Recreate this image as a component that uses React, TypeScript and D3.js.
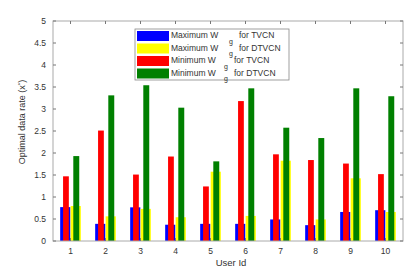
import React from "react";
import * as d3 from "d3";

const users = [1, 2, 3, 4, 5, 6, 7, 8, 9, 10];
const maxTVCN = [0.77, 0.39, 0.765, 0.37, 0.39, 0.39, 0.49, 0.36, 0.66, 0.7];
const maxDTVCN = [0.795, 0.56, 0.73, 0.54, 1.575, 0.57, 1.825, 0.49, 1.425, 0.66];
const minTVCN = [1.47, 2.51, 1.51, 1.92, 1.24, 3.18, 1.97, 1.84, 1.76, 1.52];
const minDTVCN = [1.93, 3.31, 3.54, 3.03, 1.81, 3.47, 2.575, 2.34, 3.47, 3.29];
const yTicks = [0, 0.5, 1, 1.5, 2, 2.5, 3, 3.5, 4, 4.5, 5];

const legendItems = [
  { head: "Maximum W", tail: "for TVCN", color: "#0000ff" },
  { head: "Maximum W", tail: "for DTVCN", color: "#ffff00" },
  { head: "Minimum W", tail: "for TVCN", color: "#ff0000" },
  { head: "Minimum W", tail: "for DTVCN", color: "#008000" },
];

const series = [
  { values: maxTVCN, color: "#0000ff", offset: -0.15, width: 0.29 },
  { values: maxDTVCN, color: "#ffff00", offset: 0.15, width: 0.29 },
  { values: minTVCN, color: "#ff0000", offset: -0.13, width: 0.165 },
  { values: minDTVCN, color: "#008000", offset: 0.165, width: 0.17 },
];

export default function App() {
  const width = 415;
  const height = 277;
  const margin = { top: 21, right: 12, bottom: 36, left: 53 };
  const innerWidth = width - margin.left - margin.right;
  const innerHeight = height - margin.top - margin.bottom;

  const xScale = d3.scaleLinear().domain([0.5, 10.5]).range([0, innerWidth]);
  const yScale = d3.scaleLinear().domain([0, 5]).range([innerHeight, 0]);
  const unit = xScale(1) - xScale(0);

  const font = "'Liberation Sans', Arial, sans-serif";
  const textColor = "#333";

  return (
    <svg
      width={width}
      height={height}
      style={{ position: "absolute", left: 0, top: 0 }}
      fontFamily={font}
    >
      <rect width={width} height={height} fill="#fff" />
      <g transform={`translate(${margin.left},${margin.top})`}>
        {/* bars */}
        {series.map((s, si) => (
          <g key={si} fill={s.color}>
            {users.map((u, i) => (
              <rect
                key={u}
                x={xScale(u + s.offset) - (s.width * unit) / 2}
                y={yScale(s.values[i])}
                width={s.width * unit}
                height={yScale(0) - yScale(s.values[i])}
              />
            ))}
          </g>
        ))}

        {/* box */}
        <rect
          x={0}
          y={0}
          width={innerWidth}
          height={innerHeight}
          fill="none"
          stroke="#aaa"
          strokeWidth={1}
        />

        {/* ticks */}
        <g stroke="#777" strokeWidth={1}>
          {users.map((u) => (
            <g key={u}>
              <line x1={xScale(u)} x2={xScale(u)} y1={innerHeight} y2={innerHeight - 3} />
              <line x1={xScale(u)} x2={xScale(u)} y1={0} y2={3} />
            </g>
          ))}
          {yTicks.map((t) => (
            <g key={t}>
              <line x1={0} x2={3} y1={yScale(t)} y2={yScale(t)} />
              <line x1={innerWidth} x2={innerWidth - 3} y1={yScale(t)} y2={yScale(t)} />
            </g>
          ))}
        </g>

        {/* tick labels */}
        <g fill={textColor} fontSize={8.5}>
          {users.map((u) => (
            <text key={u} x={xScale(u)} y={innerHeight + 13} textAnchor="middle">
              {u}
            </text>
          ))}
          {yTicks.map((t) => (
            <text key={t} x={-7} y={yScale(t) + 3} textAnchor="end">
              {t}
            </text>
          ))}
        </g>

        {/* axis labels */}
        <text
          x={innerWidth / 2 + 3}
          y={innerHeight + 25}
          textAnchor="middle"
          fontSize={9.5}
          fill={textColor}
        >
          User Id
        </text>
        <text
          transform={`translate(${-28},${innerHeight / 2 - 9}) rotate(-90)`}
          textAnchor="middle"
          fontSize={9}
          fill={textColor}
        >
          Optimal data rate (x
          <tspan fontSize={6} dy={-3}>*</tspan>
          <tspan dy={3}>)</tspan>
        </text>

        {/* legend */}
        <g transform={`translate(${135 - margin.left},${29 - margin.top})`}>
          <rect width={154} height={51} fill="#fff" stroke="#888" strokeWidth={0.8} />
          {legendItems.map((item, i) => (
            <g key={i} transform={`translate(0,${2 + i * 12.5})`}>
              <rect x={2} y={0} width={32} height={10} fill={item.color} />
              <text x={36} y={7} fontSize={8.5} fill={textColor}>
                {item.head}
              </text>
              <text x={i < 2 ? 94 : 89} y={12.5} fontSize={7} fill={textColor}>
                g
              </text>
              <text x={i < 2 ? 104 : 99} y={7} fontSize={8.5} fill={textColor}>
                {item.tail}
              </text>
            </g>
          ))}
        </g>
      </g>
    </svg>
  );
}
